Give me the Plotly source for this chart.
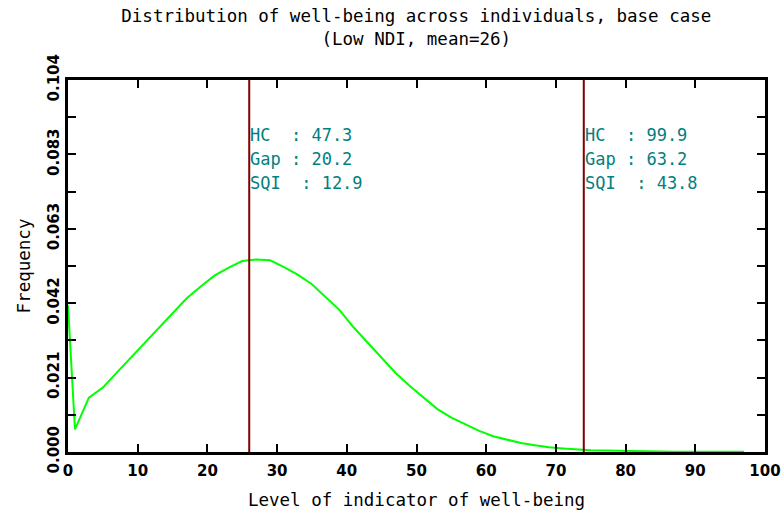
import plotly.graph_objects as go

# Data
x_level = [0, 1, 3, 5, 7, 9, 11, 13, 15, 17, 19, 21, 23, 25, 27, 29, 31, 33, 35, 37, 39,
           41, 43, 45, 47, 49, 51, 53, 55, 57, 59, 61, 63, 65, 67, 69, 71, 73, 75, 77, 79,
           81, 83, 85, 87, 89, 91, 93, 95, 97]
freq = [0.0410, 0.0063, 0.0152, 0.0180, 0.0222, 0.0263, 0.0304, 0.0345, 0.0387, 0.0429,
        0.0462, 0.0493, 0.0515, 0.0534, 0.0538, 0.0536, 0.0517, 0.0495, 0.0469, 0.0432,
        0.0396, 0.0348, 0.0305, 0.0263, 0.0221, 0.0185, 0.0152, 0.0120, 0.0096, 0.0078,
        0.0059, 0.0044, 0.0034, 0.0025, 0.0019, 0.0013, 0.0010, 0.0007, 0.0005, 0.0004,
        0.0003, 0.0002, 0.00015, 0.00012, 0.0001, 0.0001, 0.00008, 0.00007, 0.00006, 0.00005]

vline_x = [26, 74]
hc_values = ["47.3", "99.9"]
gap_values = ["20.2", "63.2"]
sqi_values = ["12.9", "43.8"]
stat_labels = ["HC  : ", "Gap : ", "SQI  : "]
stat_label_y = [0.0886, 0.0819, 0.0751]

x_ticks = [0, 10, 20, 30, 40, 50, 60, 70, 80, 90, 100]
y_tickvals = [0.0, 0.0104, 0.0208, 0.0312, 0.0416, 0.052, 0.0624, 0.0728, 0.0832, 0.0936, 0.104]
y_ticktext = ["0.000", "", "0.021", "", "0.042", "", "0.063", "", "0.083", "", "0.104"]

title_lines = ["Distribution of well-being across individuals, base case", "(Low NDI, mean=26)"]

teal = "#008080"
darkred = "#800000"
MONO = "DejaVu Sans Mono"
SANS = "DejaVu Sans"

fig = go.Figure()
fig.add_trace(go.Scatter(x=x_level, y=freq, mode="lines",
                         line=dict(color="#00ff00", width=2), showlegend=False,
                         hoverinfo="skip"))

for vx, hc, gp, sq in zip(vline_x, hc_values, gap_values, sqi_values):
    fig.add_shape(type="line", x0=vx, x1=vx, y0=0, y1=1, xref="x", yref="paper",
                  line=dict(color=darkred, width=2))
    for ytxt, lab, val in zip(stat_label_y, stat_labels, [hc, gp, sq]):
        fig.add_annotation(x=vx, y=ytxt, xref="x", yref="y", text=lab + val,
                           showarrow=False, xanchor="left", yanchor="middle", xshift=-1,
                           font=dict(family=MONO, size=17, color=teal))

axis_common = dict(showline=True, linecolor="black", linewidth=3, mirror="ticks",
                   ticks="inside", ticklen=8, tickwidth=2, tickcolor="black",
                   showgrid=False, zeroline=False, automargin=False,
                   tickfont=dict(family=SANS, size=15, color="black", weight="bold"))

fig.update_xaxes(range=[0, 100], tickvals=x_ticks, ticktext=[str(v) for v in x_ticks],
                 ticklabelstandoff=3,
                 title=dict(text="Level of indicator of well-being",
                            font=dict(family=MONO, size=17.5, color="black"), standoff=20),
                 **axis_common)
fig.update_yaxes(range=[0, 0.104], tickvals=y_tickvals, ticktext=y_ticktext, tickangle=-90,
                 title=dict(text="Frequency", font=dict(family=MONO, size=17.5, color="black"),
                            standoff=10),
                 **axis_common)

fig.update_layout(
    width=784, height=510,
    margin=dict(l=68, r=19, t=80, b=58),
    plot_bgcolor="white", paper_bgcolor="white",
    title=dict(text="<br>".join(title_lines), x=0.531, xanchor="center", y=0.957, yanchor="top",
               font=dict(family=MONO, size=17.5, color="black")),
)

fig.write_html("out.html", config={"displayModeBar": False},
               post_script="document.body.style.margin='0px';")
